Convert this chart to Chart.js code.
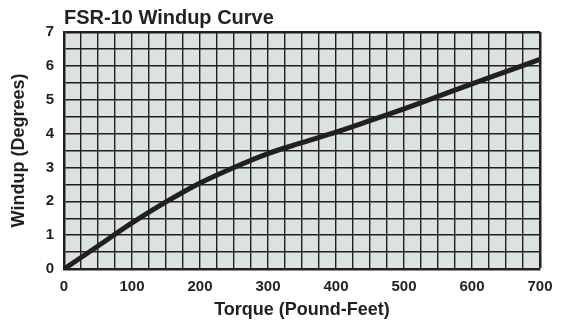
<!DOCTYPE html>
<html>
<head>
<meta charset="utf-8">
<script src="https://cdn.jsdelivr.net/npm/chart.js@4"></script>
<style>
  html, body { margin: 0; padding: 0; background: #fff; }
  #wrap { width: 564px; height: 322px; }
</style>
</head>
<body>
<div id="wrap"><canvas id="chart"></canvas></div>
<script>
const chartTitle = 'FSR-10 Windup Curve';
const xTitle = 'Torque (Pound-Feet)';
const yTitle = 'Windup (Degrees)';
const torque = [0, 50, 100, 150, 200, 250, 300, 350, 400, 450, 500, 550, 600, 650, 700];
const windup = [0, 0.68, 1.36, 1.98, 2.54, 3.0, 3.41, 3.73, 4.04, 4.38, 4.73, 5.1, 5.47, 5.83, 6.19];
const xTicks = [0, 100, 200, 300, 400, 500, 600, 700];
const yTicks = [0, 1, 2, 3, 4, 5, 6, 7];

const ink = '#231f20';
const fill = '#dbe3e0';
const fontFamily = '"Liberation Sans", Arial, Helvetica, sans-serif';

// paints the plot background and the title aligned with the plot's left edge
const plotDecor = {
    id: 'plotDecor',
    beforeDraw(chart) {
        const { ctx, chartArea: a } = chart;
        ctx.save();
        ctx.fillStyle = fill;
        ctx.fillRect(a.left, a.top, a.right - a.left, a.bottom - a.top);
        ctx.restore();
    },
    afterDraw(chart) {
        const { ctx, chartArea: a } = chart;
        ctx.save();
        ctx.fillStyle = ink;
        ctx.font = 'bold 20px ' + fontFamily;
        ctx.textAlign = 'left';
        ctx.textBaseline = 'alphabetic';
        ctx.fillText(chartTitle, a.left, 24);
        ctx.restore();
    }
};

const frameWidth = (max) => (c) => (c.tick && c.tick.value === max ? 2.5 : 1.4);

new Chart(document.getElementById('chart'), {
    type: 'line',
    data: {
        datasets: [{
            data: torque.map((t, i) => ({ x: t, y: windup[i] })),
            borderColor: ink,
            borderWidth: 5,
            pointRadius: 0,
            cubicInterpolationMode: 'monotone',
            fill: false
        }]
    },
    options: {
        responsive: true,
        maintainAspectRatio: false,
        animation: false,
        layout: { padding: { top: 32, right: 24, bottom: 0, left: 0 } },
        plugins: { legend: { display: false }, tooltip: { enabled: false } },
        scales: {
            x: {
                type: 'linear',
                min: 0,
                max: 700,
                afterFit: (s) => { s.height = 53; },
                grid: { color: ink, lineWidth: frameWidth(700), drawTicks: false },
                border: { color: ink, width: 2.5 },
                ticks: {
                    stepSize: 25,
                    autoSkip: false,
                    maxRotation: 0,
                    padding: 9,
                    color: ink,
                    font: { family: fontFamily, size: 15, weight: 'bold' },
                    callback: (v) => (xTicks.includes(v) ? String(v) : '')
                },
                title: {
                    display: true,
                    text: xTitle,
                    color: ink,
                    font: { family: fontFamily, size: 18, weight: 'bold' },
                    padding: { top: 0, bottom: 1 }
                }
            },
            y: {
                min: 0,
                max: 7,
                afterFit: (s) => { s.width = 64; },
                grid: { color: ink, lineWidth: frameWidth(7), drawTicks: false },
                border: { color: ink, width: 2.5 },
                ticks: {
                    stepSize: 0.5,
                    autoSkip: false,
                    padding: 10,
                    color: ink,
                    font: { family: fontFamily, size: 15, weight: 'bold' },
                    callback: (v) => (yTicks.includes(v) ? String(v) : '')
                },
                title: {
                    display: true,
                    text: yTitle,
                    color: ink,
                    font: { family: fontFamily, size: 18, weight: 'bold' },
                    padding: { top: 8, bottom: 0 }
                }
            }
        }
    },
    plugins: [plotDecor]
});
</script>
</body>
</html>
